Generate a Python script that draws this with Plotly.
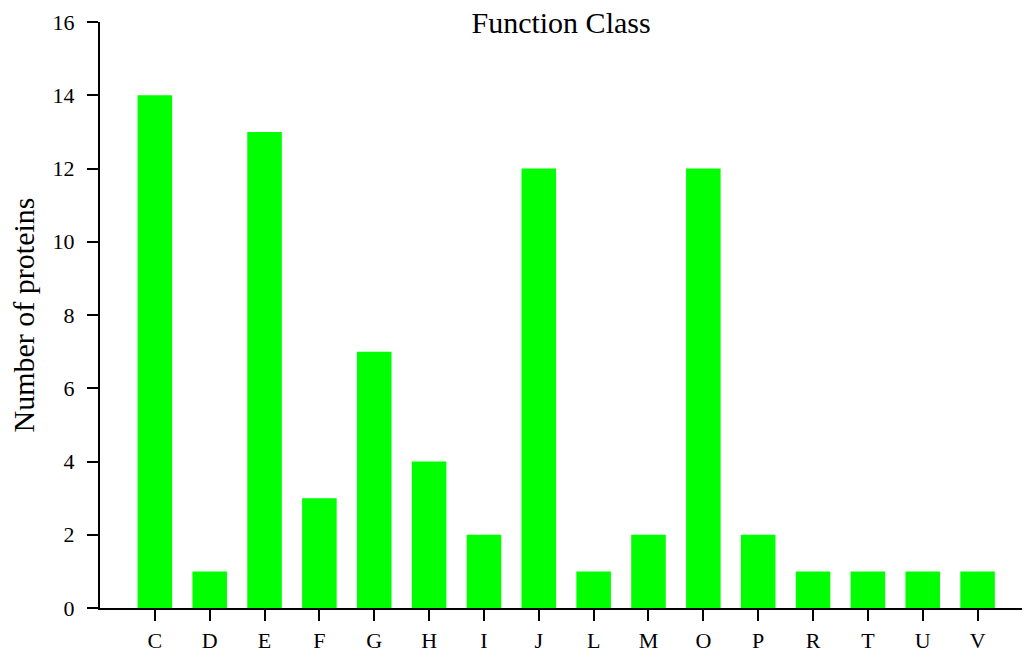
import plotly.graph_objects as go

categories = ["C", "D", "E", "F", "G", "H", "I", "J", "L", "M", "O", "P", "R", "T", "U", "V"]
counts = [14, 1, 13, 3, 7, 4, 2, 12, 1, 2, 12, 2, 1, 1, 1, 1]
y_ticks = [0, 2, 4, 6, 8, 10, 12, 14, 16]

font_family = "Liberation Serif, Times New Roman, serif"

fig = go.Figure(go.Bar(
    x=categories, y=counts,
    marker=dict(color="#00FF00", line=dict(width=0)),
))

fig.update_layout(
    width=1024, height=652,
    margin=dict(l=100, r=2, t=22, b=44, autoexpand=False),
    paper_bgcolor="white", plot_bgcolor="white",
    bargap=0.37,
    showlegend=False,
    font=dict(family=font_family, color="black"),
    title=dict(
        text="Function Class", x=0.5479, xanchor="center",
        y=1 - 22 / 652, yref="container", yanchor="middle",
        font=dict(size=30, family=font_family, color="black"),
    ),
)

fig.update_xaxes(
    type="category", range=[-1.0, 15.81], automargin=False,
    showline=True, linecolor="black", linewidth=2,
    ticks="outside", ticklen=11, tickwidth=2, tickcolor="black",
    tickfont=dict(size=22, family=font_family, color="black"),
    ticklabelstandoff=1,
    showgrid=False, zeroline=False,
)

fig.update_yaxes(
    range=[0, 16], tickvals=y_ticks, automargin=False,
    showline=True, linecolor="black", linewidth=2,
    ticks="outside", ticklen=11, tickwidth=2, tickcolor="black",
    tickfont=dict(size=22, family=font_family, color="black"),
    ticklabelstandoff=8,
    showgrid=False, zeroline=False,
    title=dict(text="Number of proteins", font=dict(size=30, family=font_family, color="black"), standoff=9),
)

fig.write_html(
    "out.html",
    config={"displayModeBar": False},
    post_script="document.body.style.margin='0';document.body.style.overflow='hidden';",
)
